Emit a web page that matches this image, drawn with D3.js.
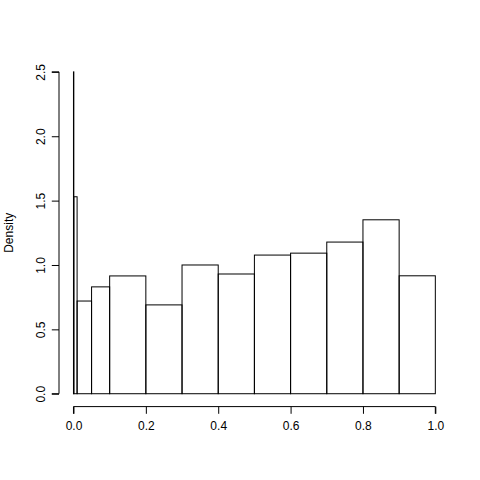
<!DOCTYPE html>
<html>
<head>
<meta charset="utf-8">
<script src="https://cdn.jsdelivr.net/npm/d3@7"></script>
<style>
  body { margin: 0; background: #fff; }
  text { font-family: "Liberation Sans", Arial, sans-serif; font-size: 12px; fill: #000; }
</style>
</head>
<body>
<div id="viz"></div>
<script>
// histogram breaks and densities
let breaks = [0, 0.001, 0.01, 0.05, 0.1, 0.2, 0.3, 0.4, 0.5, 0.6, 0.7, 0.8, 0.9, 1.0];
let density = [2.5, 1.53, 0.72, 0.83, 0.915, 0.69, 1.0, 0.93, 1.077, 1.092, 1.178, 1.351, 0.916];
let xTicks = [0, 0.2, 0.4, 0.6, 0.8, 1.0];
let yTicks = [0, 0.5, 1.0, 1.5, 2.0, 2.5];
let yLabel = "Density";

let width = 480, height = 480;
// plot region like R's default margins
let plotL = 59, plotR = 449.8, plotT = 59, plotB = 406.6;

let bins = density.map((d, i) => ({ x0: breaks[i], x1: breaks[i + 1], y: d }));

let xPad = (plotR - plotL) / 1.08 * 0.04;
let yPad = (plotB - plotT) / 1.08 * 0.04;

let x = d3.scaleLinear().domain([0, 1]).range([plotL + xPad, plotR - xPad]);
let y = d3.scaleLinear().domain([0, 2.5]).range([plotB - yPad, plotT + yPad]);

let svg = d3.select("#viz")
  .append("svg")
  .attr("width", width)
  .attr("height", height);

svg.append("defs").append("clipPath").attr("id", "clip")
  .append("rect")
  .attr("x", plotL).attr("y", plotT)
  .attr("width", plotR - plotL).attr("height", plotB - plotT);

// bars
svg.append("g")
  .attr("clip-path", "url(#clip)")
  .selectAll("rect")
  .data(bins)
  .join("rect")
  .attr("x", d => x(d.x0))
  .attr("y", d => y(d.y))
  .attr("width", d => x(d.x1) - x(d.x0))
  .attr("height", d => y(0) - y(d.y))
  .attr("fill", "none")
  .attr("stroke", "#000")
  .attr("stroke-width", 1);

// x axis
let xAxis = svg.append("g")
  .attr("transform", `translate(0,${plotB})`)
  .call(d3.axisBottom(x).tickValues(xTicks).tickFormat(d3.format(".1f")).tickSize(7.2).tickPadding(8))
  .call(g => g.select(".domain").attr("d", `M${x(0)},7.2V0H${x(1)}V7.2`));
xAxis.selectAll("text").attr("font-family", null).attr("font-size", null);

// y axis
let yAxis = svg.append("g")
  .attr("transform", `translate(${plotL},0)`)
  .call(d3.axisLeft(y).tickValues(yTicks).tickFormat(d3.format(".1f")).tickSize(7.2))
  .call(g => g.select(".domain").attr("d", `M-7.2,${y(0)}H0V${y(2.5)}H-7.2`));
yAxis.selectAll("text")
  .attr("font-family", null).attr("font-size", null)
  .attr("x", null).attr("dy", null)
  .attr("text-anchor", "middle")
  .attr("transform", "translate(-14.4,0) rotate(-90)");

// y label
svg.append("text")
  .attr("transform", `translate(${plotL - 43.2 - 3},${(plotT + plotB) / 2}) rotate(-90)`)
  .attr("text-anchor", "middle")
  .text(yLabel);
</script>
</body>
</html>
